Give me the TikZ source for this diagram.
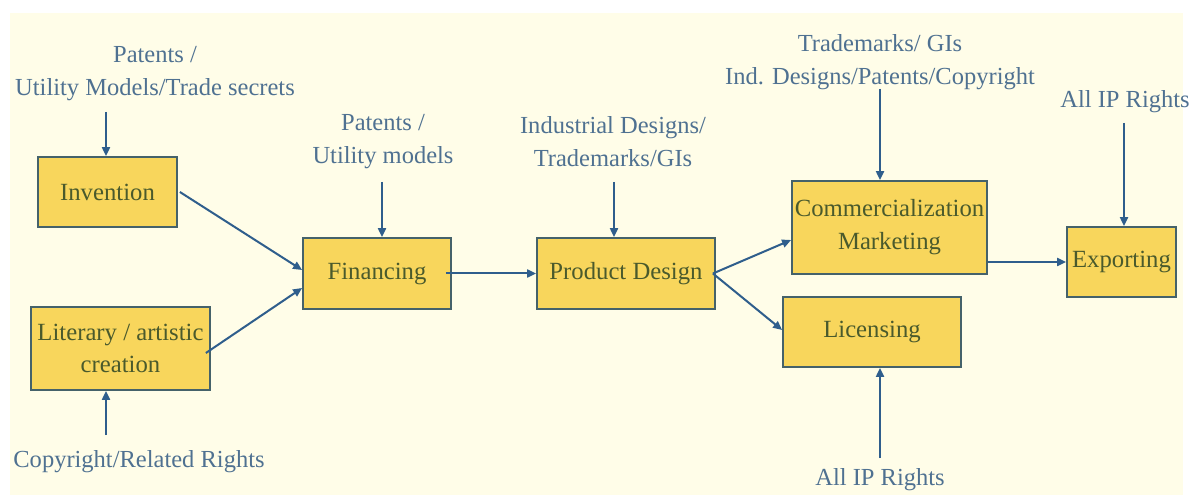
\documentclass[tikz,border=0pt]{standalone}
\usepackage{fontspec}
\setmainfont{Liberation Serif}
\usetikzlibrary{arrows.meta}
\definecolor{bgcream}{HTML}{FFFDE8}
\definecolor{boxfill}{HTML}{F8D65C}
\definecolor{boxborder}{HTML}{45626A}
\definecolor{boxtext}{HTML}{4A5A2C}
\definecolor{labeltext}{HTML}{4F7191}
\definecolor{arrowcol}{HTML}{2F5E8C}
\tikzset{
  stage/.style={draw=boxborder, line width=1.8bp, fill=boxfill, text=boxtext,
    inner sep=0pt, align=center, font=\fontsize{24.8}{33}\selectfont},
  iplabel/.style={text=labeltext, inner sep=0pt, align=center,
    font=\fontsize{24.6}{33}\selectfont},
  arr/.style={draw=arrowcol, line width=2bp, -{Triangle[length=9bp,width=8bp]}}
}
\begin{document}
\begin{tikzpicture}[x=1bp,y=-1bp]
\useasboundingbox (0,0) rectangle (1191,495);
\fill[white] (0,0) rectangle (1191,495);
\fill[bgcream] (10,13) rectangle (1183,495);

% stages
\node[stage, minimum width=139bp, minimum height=70bp] (inv) at (107.5,192) {Invention};
\node[stage, minimum width=179bp, minimum height=83bp] (lit) at (120.5,348.5) {Literary / artistic\\creation};
\node[stage, minimum width=148bp, minimum height=71bp] (fin) at (377,273.5) {Financing};
\node[stage, minimum width=178bp, minimum height=71bp] (pd) at (626,273.5) {Product Design};
\node[stage, minimum width=195bp, minimum height=93bp] (com) at (889.5,227.5) {Commercialization\\Marketing};
\node[stage, minimum width=109bp, minimum height=70bp] (exp) at (1121.5,262) {Exporting};
\node[stage, minimum width=178bp, minimum height=70bp] (lic) at (872,332) {Licensing};

% labels
\node[iplabel] (l1) at (155,74) {Patents /\\Utility Models/Trade secrets};
\node[iplabel] (l2) at (383,142) {Patents /\\Utility models};
\node[iplabel] (l3) at (613,142) {Industrial Designs/\\Trademarks/GIs};
\node[iplabel] (l4) at (880,62) {Trademarks/ GIs\\Ind. Designs/Patents/Copyright};
\node[iplabel] (l5) at (1125,102) {All IP Rights};
\node[iplabel] (l6) at (880,480) {All IP Rights};
\node[iplabel] (l7) at (139,462) {Copyright/Related Rights};

% arrow start points
\coordinate (c1) at (106,112);
\coordinate (c2) at (382,182);
\coordinate (c3) at (614,182);
\coordinate (c4) at (880,89);
\coordinate (c5) at (1124,123);
\coordinate (c6) at (880,458);
\coordinate (c7) at (106,435);

\draw[arr] (c1) -- (c1 |- inv.north);
\draw[arr] (c2) -- (c2 |- fin.north);
\draw[arr] (c3) -- (c3 |- pd.north);
\draw[arr] (c4) -- (c4 |- com.north);
\draw[arr] (c5) -- (c5 |- exp.north);
\draw[arr] (c6) -- (c6 |- lic.south);
\draw[arr] (c7) -- (c7 |- lit.south);

% flow
\draw[arr] ([xshift=2bp]inv.east) -- ([yshift=3.5bp]fin.west);
\draw[arr] ([xshift=-5bp,yshift=-4.5bp]lit.east) -- ([yshift=-14.5bp]fin.west);
\draw[arr] ([xshift=-6bp]fin.east) -- (pd.west);
\draw[arr] ([xshift=-3bp]pd.east) -- ([yshift=-12.5bp]com.west);
\draw[arr] ([xshift=-3bp]pd.east) -- ([yshift=2bp]lic.west);
\draw[arr] (com.east |- exp.west) -- (exp.west);
\end{tikzpicture}
\end{document}
